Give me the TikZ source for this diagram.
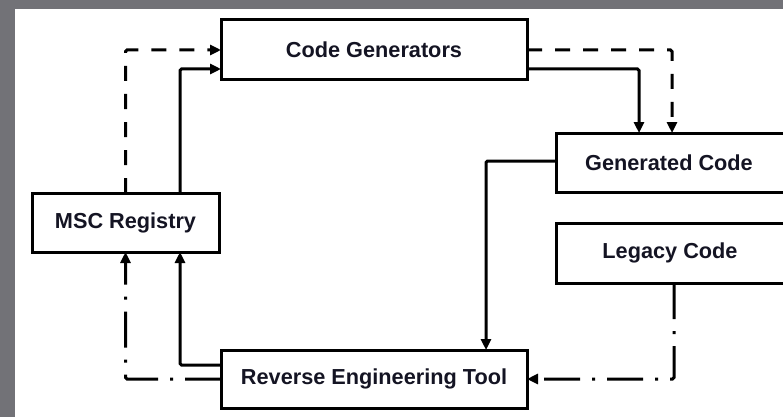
\documentclass[tikz,border=0pt]{standalone}
\usepackage{fontspec}
\setmainfont{Liberation Sans}
\usetikzlibrary{arrows.meta}
\definecolor{bggray}{RGB}{114,114,119}
\definecolor{txt}{RGB}{20,20,35}
\begin{document}
\begin{tikzpicture}[x=1pt,y=-1pt,
  box/.style={draw=black, line width=3pt, fill=white, outer sep=0pt, inner sep=0pt,
    font=\fontsize{21.7}{24}\selectfont\bfseries, text=txt},
  flow/.style={line width=3pt, -{Triangle[length=11pt,width=10pt]}, rounded corners=1.5pt},
  dashflow/.style={flow, dash pattern=on 15pt off 13pt},
  dotflow/.style={flow, dash pattern=on 36pt off 12pt on 3pt off 12pt},
]
\useasboundingbox (0,0) rectangle (783,417);
\clip (0,0) rectangle (783,417);
% slide frame and white canvas
\fill[bggray] (0,0) rectangle (783,417);
\fill[white] (15,9) rectangle (783,417);

% boxes (the two on the right run past the right edge)
\node[box, minimum width=306pt, minimum height=60pt] (cg) at (374,50) {Code Generators};
\node[box, minimum width=187pt, minimum height=59pt] (msc) at (125.5,222.5) {MSC Registry};
\node[box, minimum width=306pt, minimum height=58pt] (ret) at (374,379) {Reverse Engineering Tool};
\node[box, minimum width=264pt, minimum height=59pt] (gc) at (688,162.5) {Generated Code\kern38pt};
\node[box, minimum width=264pt, minimum height=60pt] (lc) at (688,253) {Legacy Code\kern36pt};

% connectors
\draw[dashflow] (msc.north) |- (cg.west);
\draw[flow] ([xshift=54.5pt]msc.north) |- ([yshift=-19pt]cg.west);
\draw[dashflow] (cg.east) -| ([xshift=-16pt]gc.north);
\draw[flow] ([yshift=-19pt]cg.east) -| ([xshift=-49pt]gc.north);
\draw[flow] ([yshift=1.5pt]gc.west) -| ([xshift=112pt]ret.north);
\draw[dotflow] ([xshift=-14pt]lc.south) |- (ret.east);
\draw[flow] ([yshift=14pt]ret.west) -| ([xshift=54.5pt]msc.south);
\draw[dotflow] (ret.west) -| (msc.south);
\end{tikzpicture}
\end{document}
